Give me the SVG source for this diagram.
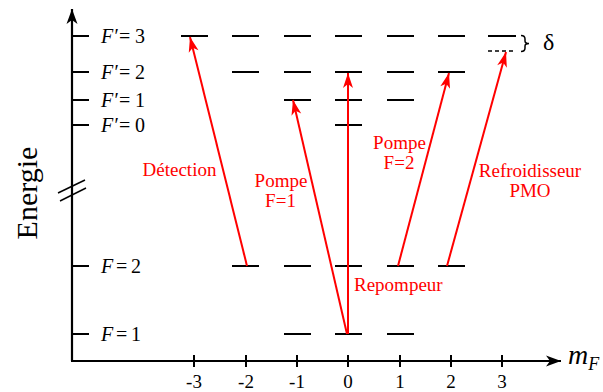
<svg xmlns="http://www.w3.org/2000/svg" width="603" height="392" viewBox="0 0 603 392" font-family="'Liberation Serif', 'DejaVu Serif', serif">
<style>
text{font-family:'Liberation Serif','DejaVu Serif',serif;}
.lv{stroke:#000;stroke-width:2;fill:none}
.ax{stroke:#000;stroke-width:2.2;fill:none}
.lb{font-size:20px;fill:#000}
.it{font-style:italic}
.tk{font-size:19px;fill:#000;text-anchor:middle}
.rl{font-size:19px;fill:#ff0000;text-anchor:middle}
.rs{font-size:19px;fill:#ff0000;text-anchor:start}
.tr{stroke:#ff0000;stroke-width:2;fill:none}
</style>
<defs>
<marker id="ah" markerUnits="userSpaceOnUse" viewBox="-16 -6 17 12" markerWidth="17" markerHeight="12" refX="0" refY="0" orient="auto">
<path d="M0,0 L-15,-5 L-11,0 L-15,5 Z" fill="#ff0000"/>
</marker>
<marker id="axh" markerUnits="userSpaceOnUse" viewBox="-16 -6 17 12" markerWidth="17" markerHeight="12" refX="0" refY="0" orient="auto">
<path d="M0,0 L-15,-5.5 L-11,0 L-15,5.5 Z" fill="#000"/>
</marker>
</defs>

<g id="axes">
<line class="ax" x1="72" y1="361" x2="72" y2="9" marker-end="url(#axh)"/>
<line class="ax" x1="71" y1="361" x2="561" y2="361" marker-end="url(#axh)"/>
<line x1="58" y1="193" x2="85" y2="180" stroke="#000" stroke-width="1.5"/>
<line x1="60" y1="201" x2="86" y2="188" stroke="#000" stroke-width="1.5"/>
<g class="lv">
<line x1="72" y1="36" x2="89" y2="36"/>
<line x1="72" y1="72" x2="89" y2="72"/>
<line x1="72" y1="100" x2="89" y2="100"/>
<line x1="72" y1="125" x2="89" y2="125"/>
<line x1="72" y1="266" x2="89" y2="266"/>
<line x1="72" y1="334" x2="89" y2="334"/>
<line x1="194" y1="355" x2="194" y2="367"/>
<line x1="246" y1="355" x2="246" y2="367"/>
<line x1="297" y1="355" x2="297" y2="367"/>
<line x1="348" y1="355" x2="348" y2="367"/>
<line x1="400" y1="355" x2="400" y2="367"/>
<line x1="451" y1="355" x2="451" y2="367"/>
<line x1="502" y1="355" x2="502" y2="367"/>
</g>
<text class="tk" x="194" y="388">-3</text>
<text class="tk" x="246" y="388">-2</text>
<text class="tk" x="297" y="388">-1</text>
<text class="tk" x="348" y="388">0</text>
<text class="tk" x="400" y="388">1</text>
<text class="tk" x="451" y="388">2</text>
<text class="tk" x="502" y="388">3</text>
<text x="37" y="193" font-size="30" text-anchor="middle" transform="rotate(-90 37 193)">Energie</text>
<text x="568" y="364" font-size="28" font-style="italic">m<tspan font-size="18" dy="6">F</tspan></text>
</g>

<g id="level-Fp3">
<g class="lv">
<line x1="181" y1="36" x2="208" y2="36"/>
<line x1="232" y1="36" x2="259" y2="36"/>
<line x1="284" y1="36" x2="311" y2="36"/>
<line x1="335" y1="36" x2="362" y2="36"/>
<line x1="387" y1="36" x2="414" y2="36"/>
<line x1="438" y1="36" x2="465" y2="36"/>
<line x1="488" y1="36" x2="516" y2="36"/>
</g>
<line x1="488" y1="51" x2="516" y2="51" stroke="#000" stroke-width="1.5" stroke-dasharray="4,3"/>
<path d="M521,35.5 Q525,35.5 525,39 L525,41 Q525,43.5 529,43.5 Q525,43.5 525,46 L525,48 Q525,51.5 521,51.5" fill="none" stroke="#000" stroke-width="1.5"/>
<text x="543" y="50" font-size="24">δ</text>
<text class="lb" y="43"><tspan class="it" x="101">F′</tspan><tspan x="119">=</tspan><tspan x="135">3</tspan></text>
</g>

<g id="level-Fp2">
<g class="lv">
<line x1="232" y1="72" x2="259" y2="72"/>
<line x1="284" y1="72" x2="311" y2="72"/>
<line x1="335" y1="72" x2="362" y2="72"/>
<line x1="387" y1="72" x2="414" y2="72"/>
<line x1="438" y1="72" x2="465" y2="72"/>
</g>
<text class="lb" y="79"><tspan class="it" x="101">F′</tspan><tspan x="119">=</tspan><tspan x="135">2</tspan></text>
</g>

<g id="level-Fp1">
<g class="lv">
<line x1="284" y1="100" x2="311" y2="100"/>
<line x1="335" y1="100" x2="362" y2="100"/>
<line x1="387" y1="100" x2="414" y2="100"/>
</g>
<text class="lb" y="107"><tspan class="it" x="101">F′</tspan><tspan x="119">=</tspan><tspan x="135">1</tspan></text>
</g>

<g id="level-Fp0">
<line class="lv" x1="335" y1="125" x2="362" y2="125"/>
<text class="lb" y="132"><tspan class="it" x="101">F′</tspan><tspan x="119">=</tspan><tspan x="135">0</tspan></text>
</g>

<g id="level-F2">
<g class="lv">
<line x1="232" y1="266" x2="259" y2="266"/>
<line x1="284" y1="266" x2="311" y2="266"/>
<line x1="335" y1="266" x2="362" y2="266"/>
<line x1="387" y1="266" x2="414" y2="266"/>
<line x1="438" y1="266" x2="465" y2="266"/>
</g>
<text class="lb" y="273"><tspan class="it" x="101">F</tspan><tspan x="116">=</tspan><tspan x="131">2</tspan></text>
</g>

<g id="level-F1">
<g class="lv">
<line x1="284" y1="334" x2="311" y2="334"/>
<line x1="335" y1="334" x2="362" y2="334"/>
<line x1="387" y1="334" x2="414" y2="334"/>
</g>
<text class="lb" y="341"><tspan class="it" x="101">F</tspan><tspan x="116">=</tspan><tspan x="131">1</tspan></text>
</g>

<g id="connectors">
<line class="tr" x1="247" y1="266" x2="190" y2="37" marker-end="url(#ah)"/>
<line class="tr" x1="347" y1="334" x2="293" y2="100" marker-end="url(#ah)"/>
<line class="tr" x1="348" y1="334" x2="348" y2="73" marker-end="url(#ah)"/>
<line class="tr" x1="398" y1="266" x2="449" y2="73" marker-end="url(#ah)"/>
<line class="tr" x1="447" y1="266" x2="506" y2="52" marker-end="url(#ah)"/>
<text class="rl" x="179.5" y="176">Détection</text>
<text class="rl" x="281" y="187">Pompe</text>
<text class="rl" x="280.5" y="207">F=1</text>
<text class="rl" x="399.5" y="149">Pompe</text>
<text class="rl" x="399" y="169">F=2</text>
<text class="rl" x="530" y="177">Refroidisseur</text>
<text class="rl" x="530" y="197">PMO</text>
<text class="rs" x="354" y="291">Repompeur</text>
</g>
</svg>
